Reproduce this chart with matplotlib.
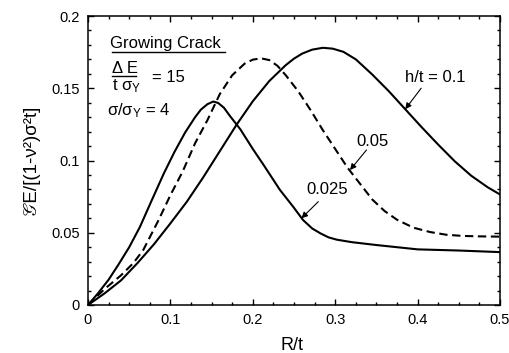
import matplotlib
matplotlib.use("Agg")
import matplotlib.pyplot as plt
from matplotlib.ticker import MultipleLocator

plt.rcParams['font.family'] = ['Liberation Sans', 'STIXGeneral', 'DejaVu Sans']
plt.rcParams['mathtext.fontset'] = 'custom'
plt.rcParams['mathtext.rm'] = 'Liberation Sans'
plt.rcParams['mathtext.it'] = 'Liberation Sans:italic'
plt.rcParams['mathtext.bf'] = 'Liberation Sans:bold'

# energy release rate vs crack size, growing crack, three h/t values
r_025 = [0, 0.012, 0.025, 0.037, 0.05, 0.063, 0.077, 0.092, 0.105, 0.118, 0.130, 0.137,
         0.145, 0.152, 0.158, 0.165, 0.172, 0.185, 0.200, 0.213, 0.233, 0.249, 0.261,
         0.272, 0.282, 0.292, 0.302, 0.320, 0.350, 0.400, 0.450, 0.500]
g_025 = [0, 0.008, 0.0175, 0.028, 0.040, 0.054, 0.072, 0.091, 0.106, 0.1195, 0.130, 0.1352,
         0.139, 0.1408, 0.1398, 0.1365, 0.131, 0.1215, 0.108, 0.097, 0.0796, 0.068, 0.0588,
         0.053, 0.0496, 0.0468, 0.0452, 0.0435, 0.0415, 0.0385, 0.0377, 0.0366]

r_05 = [0, 0.02, 0.04, 0.055, 0.067, 0.085, 0.1, 0.115, 0.13, 0.145, 0.16, 0.175, 0.19,
        0.2, 0.21, 0.22, 0.23, 0.24, 0.255, 0.27, 0.285, 0.30, 0.315, 0.33, 0.345, 0.36,
        0.375, 0.395, 0.415, 0.435, 0.455, 0.475, 0.5]
g_05 = [0, 0.011, 0.0205, 0.029, 0.038, 0.058, 0.076, 0.0925, 0.112, 0.128, 0.146, 0.159,
        0.167, 0.1698, 0.1707, 0.1695, 0.1655, 0.159, 0.148, 0.135, 0.121, 0.108, 0.095,
        0.084, 0.073, 0.065, 0.059, 0.0535, 0.0505, 0.0486, 0.0478, 0.0475, 0.0473]

r_1 = [0, 0.02, 0.04, 0.06, 0.08, 0.1, 0.12, 0.14, 0.16, 0.18, 0.2, 0.22, 0.24, 0.25,
       0.26, 0.272, 0.285, 0.297, 0.31, 0.325, 0.345, 0.365, 0.385, 0.405, 0.425, 0.445,
       0.465, 0.485, 0.5]
g_1 = [0, 0.008, 0.017, 0.029, 0.042, 0.0565, 0.0715, 0.0885, 0.1065, 0.1245, 0.141, 0.155,
       0.166, 0.1705, 0.174, 0.1767, 0.178, 0.1774, 0.1752, 0.170, 0.1595, 0.148, 0.1355,
       0.123, 0.111, 0.0995, 0.0895, 0.0815, 0.0765]

x_ticks = [0, 0.1, 0.2, 0.3, 0.4, 0.5]
x_labels = ['0', '0.1', '0.2', '0.3', '0.4', '0.5']
y_ticks = [0, 0.05, 0.1, 0.15, 0.2]
y_labels = ['0', '0.05', '0.1', '0.15', '0.2']

fig = plt.figure(figsize=(5.09, 3.53), dpi=100)
ax = fig.add_axes([88 / 509, 1 - 305 / 353, 412 / 509, 289 / 353])

ax.plot(r_1, g_1, color='black', lw=1.5)
ax.plot(r_05, g_05, color='black', lw=1.5, dashes=(4, 2.2))
ax.plot(r_025, g_025, color='black', lw=1.5)

ax.set_xlim(0, 0.5)
ax.set_ylim(0, 0.2)
ax.set_xticks(x_ticks, x_labels)
ax.set_yticks(y_ticks, y_labels)
ax.xaxis.set_minor_locator(MultipleLocator(0.025))
ax.yaxis.set_minor_locator(MultipleLocator(0.01))
ax.tick_params(which='both', direction='in', top=True, right=True, width=1, labelsize=10.5)
ax.tick_params(which='major', length=4.5, pad=6)
ax.tick_params(which='minor', length=2.5)
for s in ax.spines.values():
    s.set_linewidth(1.1)

# legend block
ax.text(0.053, 0.89, 'Growing Crack', transform=ax.transAxes, fontsize=12, va='baseline')
ax.plot([0.058, 0.333], [0.875, 0.875], transform=ax.transAxes, color='black', lw=1)
ax.text(0.058, 0.803, 'Δ E', transform=ax.transAxes, fontsize=12, va='baseline')
ax.plot([0.058, 0.117], [0.792, 0.792], transform=ax.transAxes, color='black', lw=1)
ax.text(0.058, 0.744, r'$\mathrm{t\ σ_Y}$', transform=ax.transAxes, fontsize=12, va='baseline')
ax.text(0.155, 0.772, '= 15', transform=ax.transAxes, fontsize=12, va='baseline')
ax.text(0.046, 0.657, r'$\mathrm{σ/σ_Y}$ = 4', transform=ax.transAxes, fontsize=12, va='baseline')

# curve labels with arrows
arrow = dict(arrowstyle='-|>', color='black', lw=0.8, mutation_scale=9, shrinkA=0, shrinkB=0)
ax.text(0.421, 0.1574, 'h/t = 0.1', fontsize=12, ha='center', va='center')
ax.annotate('', xy=(0.385, 0.1355), xytext=(0.4043, 0.15), arrowprops=arrow)
ax.text(0.345, 0.113, '0.05', fontsize=12, ha='center', va='center')
ax.annotate('', xy=(0.318, 0.0934), xytext=(0.338, 0.1073), arrowprops=arrow)
ax.text(0.2897, 0.0801, '0.025', fontsize=12, ha='center', va='center')
ax.annotate('', xy=(0.259, 0.06), xytext=(0.2795, 0.0715), arrowprops=arrow)

fig.text(292.5 / 509, 1 - 345 / 353, 'R/t', fontsize=13, ha='center', va='center')
fig.text(31 / 509, 1 - 160 / 353, '𝒢E/[(1-ν²)σ²t]', fontsize=13.5, rotation=90,
         ha='center', va='center')

fig.savefig('out.png', dpi=100)
